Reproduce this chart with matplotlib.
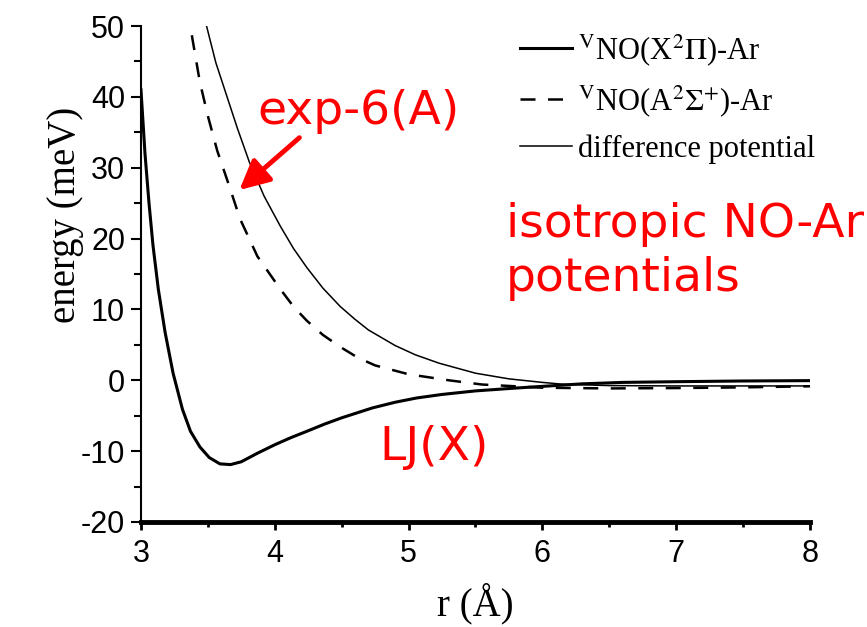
import matplotlib
matplotlib.use("Agg")
import matplotlib.pyplot as plt
from matplotlib.ticker import MultipleLocator

# isotropic NO-Ar potentials (meV) vs separation r (Angstrom)
r_x = [3.00, 3.03, 3.06, 3.09, 3.13, 3.18, 3.24, 3.31, 3.37, 3.44, 3.51, 3.59,
       3.67, 3.75, 3.87, 4.00, 4.12, 4.24, 4.37, 4.50, 4.73, 4.90, 5.06, 5.25,
       5.50, 5.80, 6.05, 6.30, 6.60, 7.00, 7.50, 8.00]
v_x = [41.0, 32.0, 25.0, 19.0, 12.8, 6.8, 1.0, -4.1, -7.2, -9.4, -10.9, -11.8,
       -11.9, -11.5, -10.3, -9.1, -8.1, -7.2, -6.2, -5.3, -3.9, -3.1, -2.5, -2.0,
       -1.5, -1.1, -0.8, -0.5, -0.3, -0.2, -0.1, -0.05]

r_a = [3.38, 3.44, 3.50, 3.57, 3.66, 3.74, 3.87, 4.04, 4.14, 4.24, 4.36, 4.49,
       4.62, 4.75, 5.00, 5.30, 5.55, 6.00, 6.50, 7.00, 7.50, 8.00]
v_a = [48.7, 42.1, 37.3, 32.4, 27.4, 22.8, 17.5, 12.9, 10.4, 8.4, 6.4, 4.7,
       3.2, 2.1, 0.85, 0.0, -0.6, -1.05, -1.15, -1.1, -1.0, -0.85]

r_d = [3.49, 3.56, 3.64, 3.72, 3.81, 3.92, 4.04, 4.14, 4.24, 4.36, 4.49, 4.60,
       4.70, 4.90, 5.05, 5.23, 5.50, 5.75, 6.00, 6.15, 6.50, 7.00, 8.00]
v_d = [50.0, 44.8, 40.2, 35.6, 30.8, 26.0, 21.8, 18.6, 15.9, 13.0, 10.4, 8.6,
       7.1, 4.9, 3.6, 2.4, 1.0, 0.2, -0.3, -0.55, -0.75, -0.8, -0.8]

labels = [r'$^{\mathrm{V}}$NO(X$^{2}\Pi$)-Ar',
          r'$^{\mathrm{V}}$NO(A$^{2}\Sigma^{+}$)-Ar',
          'difference potential']

plt.rcParams['mathtext.fontset'] = 'stix'
plt.rcParams['axes.unicode_minus'] = False
tick_font = ['Liberation Sans', 'DejaVu Sans']
serif_font = ['Liberation Serif', 'DejaVu Serif']

fig = plt.figure(figsize=(8.67, 6.27), dpi=100)
ax = fig.add_axes([0.1626, 0.1675, 0.7716, 0.791])

ax.plot(r_x, v_x, color='black', lw=2.2, label=labels[0])
ax.plot(r_a, v_a, color='black', lw=1.8, dashes=(6, 5), label=labels[1])
ax.plot(r_d, v_d, color='black', lw=1.1, label=labels[2])

ax.set_xlim(3, 8)
ax.set_ylim(-20, 50)
ax.xaxis.set_major_locator(MultipleLocator(1))
ax.xaxis.set_minor_locator(MultipleLocator(0.5))
ax.yaxis.set_major_locator(MultipleLocator(10))
ax.yaxis.set_minor_locator(MultipleLocator(5))

for side in ['top', 'right']:
    ax.spines[side].set_visible(False)
ax.spines['left'].set_linewidth(1.5)
ax.spines['bottom'].set_linewidth(3.5)

ax.tick_params(axis='y', which='major', direction='out', length=7.5, width=1.5, pad=4)
ax.tick_params(axis='y', which='minor', direction='out', length=5, width=1.5)
ax.tick_params(axis='x', which='major', direction='out', length=6, width=2, pad=6)
ax.tick_params(axis='x', which='minor', direction='out', length=3.5, width=2)
for lab in ax.get_xticklabels() + ax.get_yticklabels():
    lab.set_family(tick_font)
    lab.set_fontsize(22)

ax.set_xlabel('r (Å)', family=serif_font, fontsize=28, labelpad=10)
ax.set_ylabel('energy (meV)', family=serif_font, fontsize=28)
ax.yaxis.set_label_coords(-0.085, 0.62)

leg = ax.legend(loc='upper right', bbox_to_anchor=(1.035, 1.025), frameon=False,
                prop={'family': serif_font, 'size': 22}, handlelength=1.7,
                handletextpad=0.2, labelspacing=0.5, borderaxespad=0.2)

# red annotations
red_kw = dict(color='red', family='DejaVu Sans', fontsize=34)
ax.text(3.873, 36.2, 'exp-6(A)', va='baseline', ha='left', **red_kw)
ax.annotate('', xy=(3.72, 26.6), xytext=(4.2, 34.5),
            arrowprops=dict(arrowstyle='-|>,head_length=0.9,head_width=0.45',
                            color='red', lw=3.5, mutation_scale=20))
ax.text(4.78, -11.2, 'LJ(X)', va='baseline', ha='left', **red_kw)
ax.text(5.73, 20.2, 'isotropic NO-Ar', va='baseline', ha='left', clip_on=False, **red_kw)
ax.text(5.73, 12.6, 'potentials', va='baseline', ha='left', clip_on=False, **red_kw)

fig.savefig('out.png', dpi=100)
